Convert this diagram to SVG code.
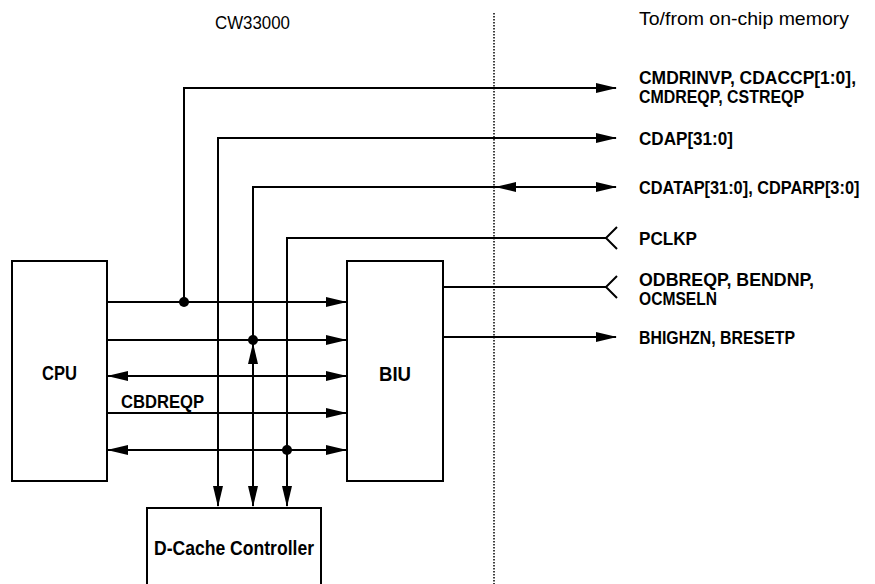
<svg xmlns="http://www.w3.org/2000/svg" width="875" height="584" viewBox="0 0 875 584">
<style>
  .box{fill:#fff;stroke:#000;stroke-width:2}
  .w{fill:none;stroke:#000;stroke-width:2}
  .a{marker-end:url(#ah)}
  .s{marker-start:url(#ah)}
  .o{marker-end:url(#open)}
  .dot{fill:#000}
  text{font-family:"Liberation Sans Narrow","Liberation Sans",Arial,sans-serif;fill:#000}
  .lb{font-size:19px;font-weight:bold}
  .hd{font-size:19px}
  .nd{font-size:21px;font-weight:bold}
</style>
<defs>
  <marker id="ah" markerUnits="userSpaceOnUse" markerWidth="24" markerHeight="12" refX="20" refY="5" orient="auto-start-reverse" overflow="visible">
    <path d="M0,0 L21,5 L0,10 z" fill="#000"/>
  </marker>
  <marker id="open" markerUnits="userSpaceOnUse" markerWidth="14" markerHeight="26" refX="0" refY="12" orient="auto" overflow="visible">
    <path d="M11,1 L0,12 L11,23" fill="none" stroke="#000" stroke-width="2"/>
  </marker>
</defs>

<line x1="494" y1="13" x2="494" y2="584" stroke="#000" stroke-width="1.5" stroke-dasharray="1.5 1.5"/>

<text class="hd" x="215" y="29" textLength="75" lengthAdjust="spacingAndGlyphs">CW33000</text>
<text class="hd" x="639" y="25" textLength="210" lengthAdjust="spacingAndGlyphs">To/from on-chip memory</text>

<g id="cpu">
  <rect class="box" x="12" y="261" width="95" height="220"/>
  <text class="nd" x="42" y="380" textLength="35" lengthAdjust="spacingAndGlyphs">CPU</text>
</g>
<g id="biu">
  <rect class="box" x="347" y="261" width="96" height="220"/>
  <text class="nd" x="379" y="381" textLength="32" lengthAdjust="spacingAndGlyphs">BIU</text>
</g>
<g id="dcache">
  <rect class="box" x="147" y="508" width="174" height="90"/>
  <text class="nd" x="154" y="555" textLength="160" lengthAdjust="spacingAndGlyphs">D-Cache Controller</text>
</g>

<g id="connectors">
  <path class="w a" d="M184,302 V88 H616"/>
  <path class="w s a" d="M218,506 V138 H616"/>
  <path class="w s a" d="M253,506 V187 H616"/>
  <path class="w a" d="M520,187 H496"/>
  <path class="w a" d="M253,366 V344"/>
  <path class="w s o" d="M287,506 V238 H606"/>
  <path class="w a" d="M107,302 H346"/>
  <path class="w a" d="M107,340 H346"/>
  <path class="w s a" d="M108,376 H346"/>
  <path class="w a" d="M107,413 H346"/>
  <path class="w s a" d="M108,450 H346"/>
  <path class="w o" d="M443,287 H606"/>
  <path class="w a" d="M443,337 H616"/>
  <circle class="dot" cx="184" cy="302" r="5"/>
  <circle class="dot" cx="253" cy="340" r="5"/>
  <circle class="dot" cx="287" cy="450" r="5"/>
  <text class="lb" x="121" y="408" textLength="83" lengthAdjust="spacingAndGlyphs">CBDREQP</text>
</g>

<g id="labels">
  <text class="lb" x="639" y="84" textLength="217" lengthAdjust="spacingAndGlyphs">CMDRINVP, CDACCP[1:0],</text>
  <text class="lb" x="639" y="103" textLength="165" lengthAdjust="spacingAndGlyphs">CMDREQP, CSTREQP</text>
  <text class="lb" x="639" y="145" textLength="94" lengthAdjust="spacingAndGlyphs">CDAP[31:0]</text>
  <text class="lb" transform="translate(639,194) scale(0.86,1)">CDATAP[31:0], CDPARP[3:0]</text>
  <text class="lb" x="639" y="245" textLength="58" lengthAdjust="spacingAndGlyphs">PCLKP</text>
  <text class="lb" x="639" y="286" textLength="175" lengthAdjust="spacingAndGlyphs">ODBREQP, BENDNP,</text>
  <text class="lb" x="639" y="305" textLength="78" lengthAdjust="spacingAndGlyphs">OCMSELN</text>
  <text class="lb" x="639" y="344" textLength="156" lengthAdjust="spacingAndGlyphs">BHIGHZN, BRESETP</text>
</g>
</svg>
